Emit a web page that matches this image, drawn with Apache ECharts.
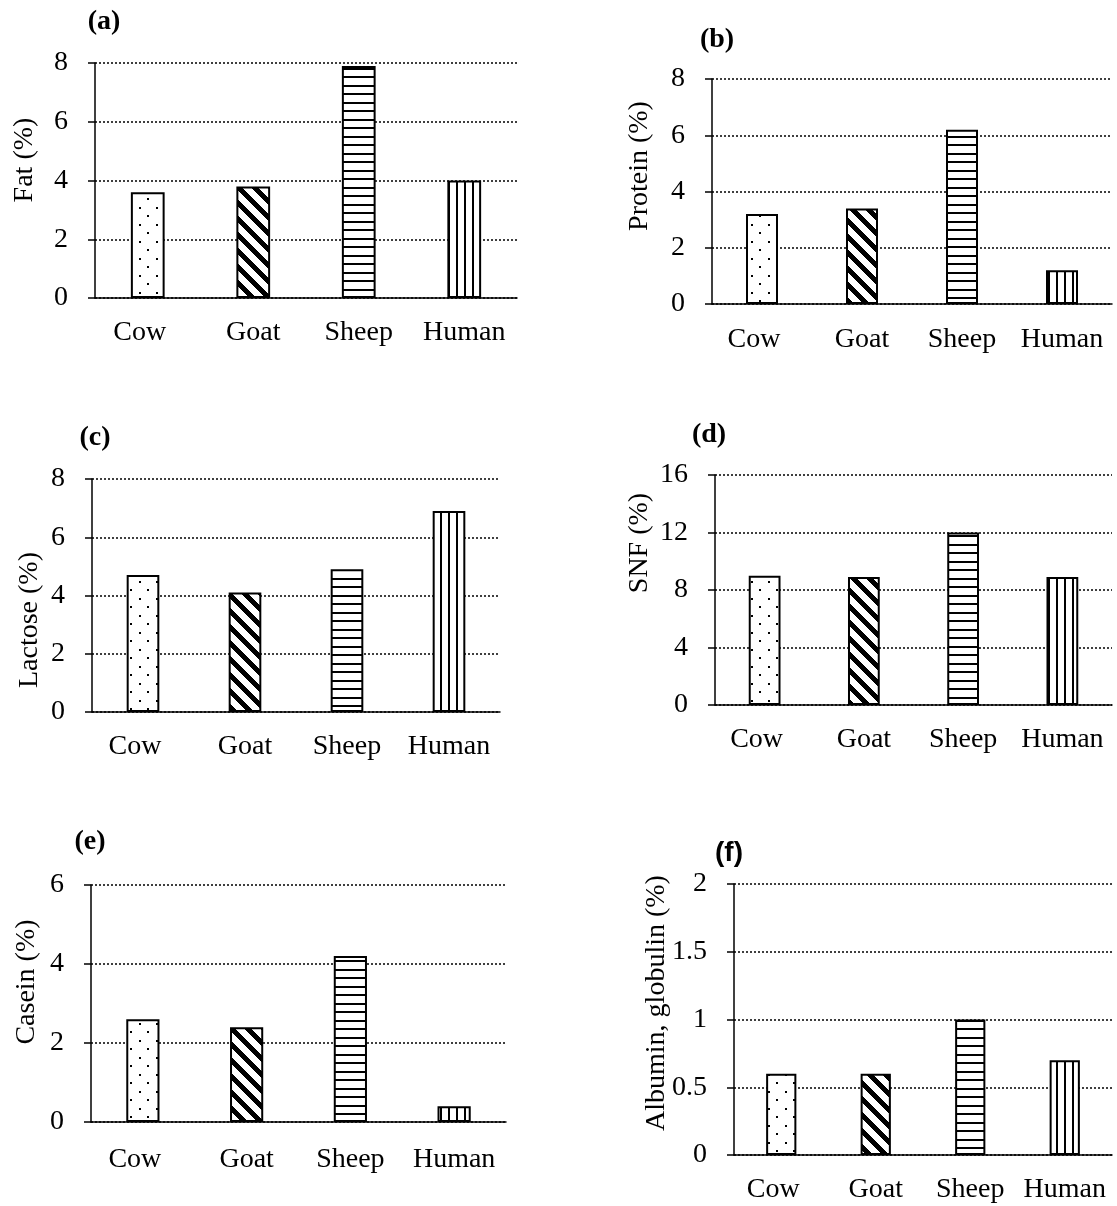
<!DOCTYPE html>
<html>
<head>
<meta charset="utf-8">
<script src="https://cdn.jsdelivr.net/npm/echarts@6/dist/echarts.min.js"></script>
<style>
html,body{margin:0;padding:0;background:#fff;}
#chart{width:1117px;height:1206px;}
</style>
</head>
<body>
<div id="chart"></div>
<script>
// ---- data ----
const categories = ['Cow', 'Goat', 'Sheep', 'Human'];
const fat = [3.6, 3.8, 7.9, 4.0];
const protein = [3.2, 3.4, 6.2, 1.2];
const lactose = [4.7, 4.1, 4.9, 6.9];
const snf = [9.0, 8.9, 12.0, 8.9];
const casein = [2.6, 2.4, 4.2, 0.4];
const albumin = [0.6, 0.6, 1.0, 0.7];
const panelLabels = ['(a)', '(b)', '(c)', '(d)', '(e)', '(f)'];
const yNames = ['Fat (%)', 'Protein (%)', 'Lactose (%)', 'SNF (%)', 'Casein (%)', 'Albumin, globulin (%)'];
const yMax = [8, 8, 8, 16, 6, 2];
const yStep = [2, 2, 2, 4, 2, 0.5];

// ---- layout ----
const panelValues = [fat, protein, lactose, snf, casein, albumin];
const grids = [
  {left: 95,  top: 63,  width: 422, height: 235},
  {left: 712, top: 79,  width: 400, height: 225},
  {left: 92,  top: 479, width: 408, height: 233},
  {left: 715, top: 475, width: 397, height: 230},
  {left: 91,  top: 885, width: 415, height: 237},
  {left: 734, top: 884, width: 378, height: 271}
];
const xLabelMargin = [21, 22, 21, 21, 24, 21];
const titlePos = [[104, 22], [717, 40], [95, 438], [709, 435], [90, 842], [729, 853]];
const namePos = [[25, 160], [640, 166], [30, 620], [640, 543], [27, 982], [657, 1003]];

// ---- patterns ----
function tile(w, h, fn) {
  const c = document.createElement('canvas');
  c.width = w; c.height = h;
  const ctx = c.getContext('2d');
  ctx.fillStyle = '#fff';
  ctx.fillRect(0, 0, w, h);
  ctx.fillStyle = '#000';
  fn(ctx, w, h);
  return {image: c, repeat: 'repeat'};
}
const patDots = tile(17, 17, (ctx) => {
  ctx.fillRect(3, 3, 2, 2);
  ctx.fillRect(11, 11, 2, 2);
});
const patDiag = tile(16, 16, (ctx, w, h) => {
  for (let y = 0; y < h; y++) {
    for (let x = 0; x < w; x++) {
      if ((((x - y) % 16) + 16) % 16 < 7) ctx.fillRect(x, y, 1, 1);
    }
  }
});
const patHoriz = tile(8, 17, (ctx) => {
  ctx.fillRect(0, 0, 8, 2);
  ctx.fillRect(0, 8, 8, 2);
});
const patVert = tile(8, 8, (ctx) => {
  ctx.fillRect(0, 0, 2, 8);
});
const patterns = [patDots, patDiag, patHoriz, patVert];

const serif = '"Liberation Serif", "Times New Roman", serif';

const option = {
  backgroundColor: '#fff',
  animation: false,
  grid: grids.map(g => Object.assign({containLabel: false}, g)),
  xAxis: grids.map((g, i) => ({
    type: 'category',
    gridIndex: i,
    data: categories.map((c, k) => k === 0 ? {value: c, textStyle: {padding: [0, 16, 0, 0]}} : c),
    axisLine: {show: true, lineStyle: {color: '#000', width: 1.5}},
    axisTick: {show: false},
    axisLabel: {color: '#000', fontFamily: serif, fontSize: 28, margin: xLabelMargin[i], interval: 0},
    splitLine: {show: false}
  })),
  yAxis: grids.map((g, i) => ({
    type: 'value',
    gridIndex: i,
    min: 0,
    max: yMax[i],
    interval: yStep[i],
    axisLine: {show: true, lineStyle: {color: '#000', width: 1.5}},
    axisTick: {show: true, length: 7, lineStyle: {color: '#000', width: 1.5}},
    axisLabel: {color: '#000', fontFamily: serif, fontSize: 28, margin: 27},
    splitLine: {show: true, lineStyle: {color: '#000', width: 1.5, type: [2, 2]}}
  })),
  series: panelValues.map((vals, i) => ({
    type: 'bar',
    xAxisIndex: i,
    yAxisIndex: i,
    barWidth: '32%',
    data: vals.map((v, k) => ({
      value: v,
      itemStyle: {color: patterns[k], borderColor: '#000', borderWidth: 2}
    }))
  })),
  graphic: [].concat(
    panelLabels.map((t, i) => ({
      type: 'text',
      x: titlePos[i][0],
      y: titlePos[i][1],
      style: {
        text: t,
        fill: '#000',
        font: i === 5 ? 'bold 28px "Liberation Sans", Arial, sans-serif' : 'bold 28px ' + serif,
        textAlign: 'center',
        textVerticalAlign: 'middle'
      }
    })),
    yNames.map((t, i) => ({
      type: 'text',
      x: namePos[i][0],
      y: namePos[i][1],
      rotation: Math.PI / 2,
      style: {
        text: t,
        fill: '#000',
        font: '28px ' + serif,
        textAlign: 'center',
        textVerticalAlign: 'middle'
      }
    }))
  )
};

const chart = echarts.init(document.getElementById('chart'), null, {renderer: 'canvas'});
chart.setOption(option);
</script>
</body>
</html>
